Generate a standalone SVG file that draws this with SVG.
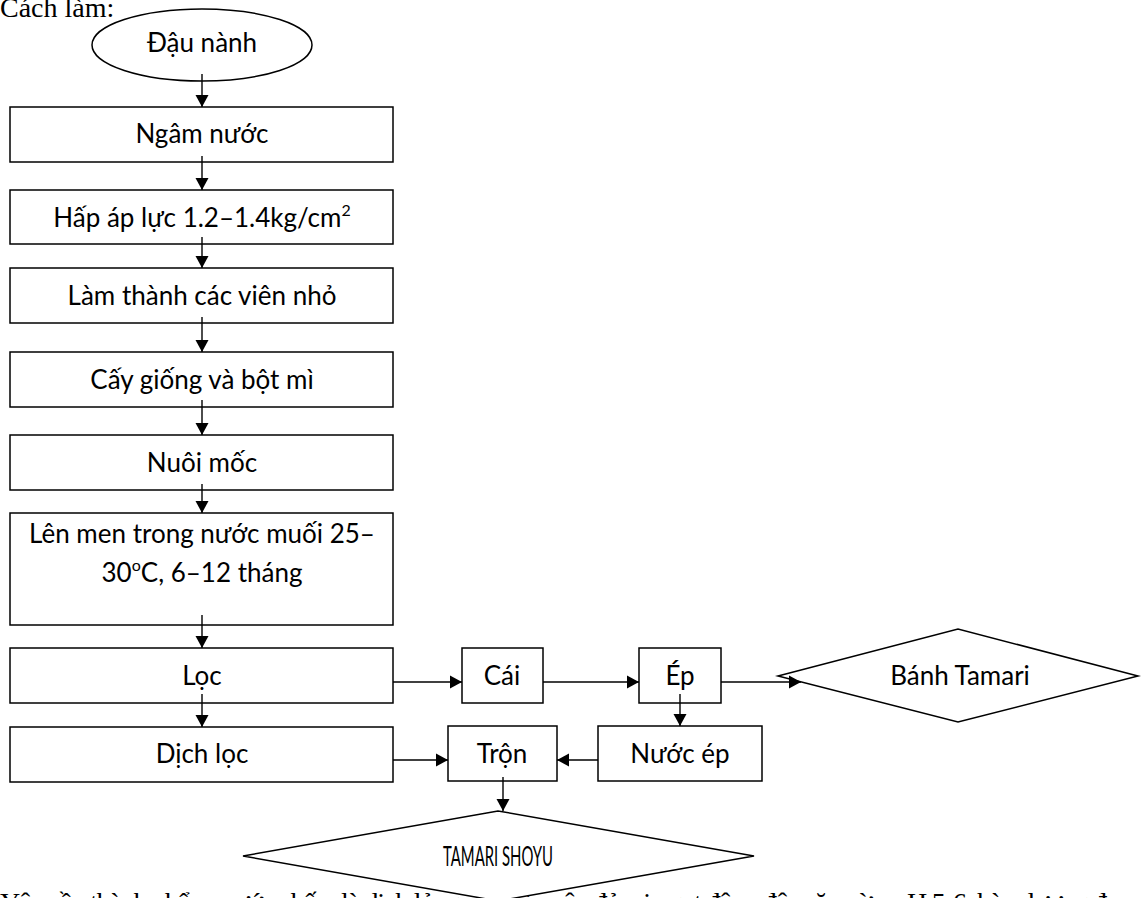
<svg xmlns="http://www.w3.org/2000/svg" width="1144" height="898" viewBox="0 0 1144 898">
  <defs>
    <marker id="ah" viewBox="0 0 12 14" markerWidth="12" markerHeight="14" refX="12" refY="7" orient="auto" markerUnits="userSpaceOnUse">
      <path d="M0,0.5 L12,7 L0,13.5 z" fill="#000"/>
    </marker>
    <style>
      .box { fill: #fff; stroke: #000; stroke-width: 1.5; }
      .lbl { font-family: Lato, "Noto Sans", "DejaVu Sans", sans-serif; font-size: 26px; fill: #000; text-anchor: middle; }
      .conn path { fill: none; stroke: #000; stroke-width: 1.4; marker-end: url(#ah); }
      .body { font-family: "Liberation Serif", "Times New Roman", serif; font-size: 28px; fill: #000; }
      .sup { font-size: 16px; }
    </style>
  </defs>
  <rect width="1144" height="898" fill="#fff"/>

  <!-- surrounding document text -->
  <text class="body" x="0" y="17">Cách làm:</text>
  <text class="body" x="0" y="912" textLength="1180" lengthAdjust="spacing">Yêu cầu thành phẩm: nước chấm là dịch lỏng, có màu nâu đỏ, vị ngọt đậm, độ mặn vừa, pH 5-6, hàm lượng đạm cao</text>

  <g id="dau-nanh">
    <ellipse class="box" cx="202" cy="45" rx="110" ry="36"/>
    <text class="lbl" x="202" y="52">Đậu nành</text>
  </g>
  <g id="ngam-nuoc">
    <rect class="box" x="10" y="107" width="383" height="55"/>
    <text class="lbl" x="202" y="143">Ngâm nước</text>
  </g>
  <g id="hap-ap-luc">
    <rect class="box" x="10" y="190" width="383" height="54"/>
    <text class="lbl" x="202" y="227">Hấp áp lực 1.2–1.4kg/cm<tspan class="sup" dy="-11">2</tspan></text>
  </g>
  <g id="lam-vien">
    <rect class="box" x="10" y="268" width="383" height="55"/>
    <text class="lbl" x="202" y="305">Làm thành các viên nhỏ</text>
  </g>
  <g id="cay-giong">
    <rect class="box" x="10" y="352" width="383" height="55"/>
    <text class="lbl" x="202" y="389">Cấy giống và bột mì</text>
  </g>
  <g id="nuoi-moc">
    <rect class="box" x="10" y="435" width="383" height="55"/>
    <text class="lbl" x="202" y="472">Nuôi mốc</text>
  </g>
  <g id="len-men">
    <rect class="box" x="10" y="513" width="383" height="112"/>
    <text class="lbl" x="202" y="543">Lên men trong nước muối 25–</text>
    <text class="lbl" x="202" y="582">30<tspan class="sup" dy="-11">o</tspan><tspan dy="11">C, 6–12 tháng</tspan></text>
  </g>
  <g id="loc">
    <rect class="box" x="10" y="648" width="383" height="55"/>
    <text class="lbl" x="202" y="685">Lọc</text>
  </g>
  <g id="dich-loc">
    <rect class="box" x="10" y="727" width="383" height="55"/>
    <text class="lbl" x="202" y="763">Dịch lọc</text>
  </g>
  <g id="cai">
    <rect class="box" x="462" y="648" width="81" height="55"/>
    <text class="lbl" x="502" y="685">Cái</text>
  </g>
  <g id="ep">
    <rect class="box" x="639" y="648" width="82" height="55"/>
    <text class="lbl" x="680" y="685">Ép</text>
  </g>
  <g id="banh-tamari">
    <polygon class="box" points="778,676 958,629 1138,676 958,722"/>
    <text class="lbl" x="960" y="685">Bánh Tamari</text>
  </g>
  <g id="tron">
    <rect class="box" x="448" y="726" width="109" height="55"/>
    <text class="lbl" x="502" y="763">Trộn</text>
  </g>
  <g id="nuoc-ep">
    <rect class="box" x="598" y="726" width="164" height="55"/>
    <text class="lbl" x="680" y="763">Nước ép</text>
  </g>
  <g id="tamari-shoyu">
    <polygon class="box" points="243,856 498,811 754,856 498,901"/>
    <text class="lbl" x="498" y="866" textLength="110" lengthAdjust="spacingAndGlyphs">TAMARI SHOYU</text>
  </g>

  <g id="connectors" class="conn">
    <path d="M202,74 V107"/>
    <path d="M202,156 V190"/>
    <path d="M202,237 V268"/>
    <path d="M202,317 V352"/>
    <path d="M202,400 V435"/>
    <path d="M202,484 V513"/>
    <path d="M202,615 V648"/>
    <path d="M202,694 V727"/>
    <path d="M393,682 H462"/>
    <path d="M543,682 H639"/>
    <path d="M721,682 H801"/>
    <path d="M680,694 V726"/>
    <path d="M393,760 H448"/>
    <path d="M598,760 H557"/>
    <path d="M503,777 V811"/>
  </g>
</svg>
